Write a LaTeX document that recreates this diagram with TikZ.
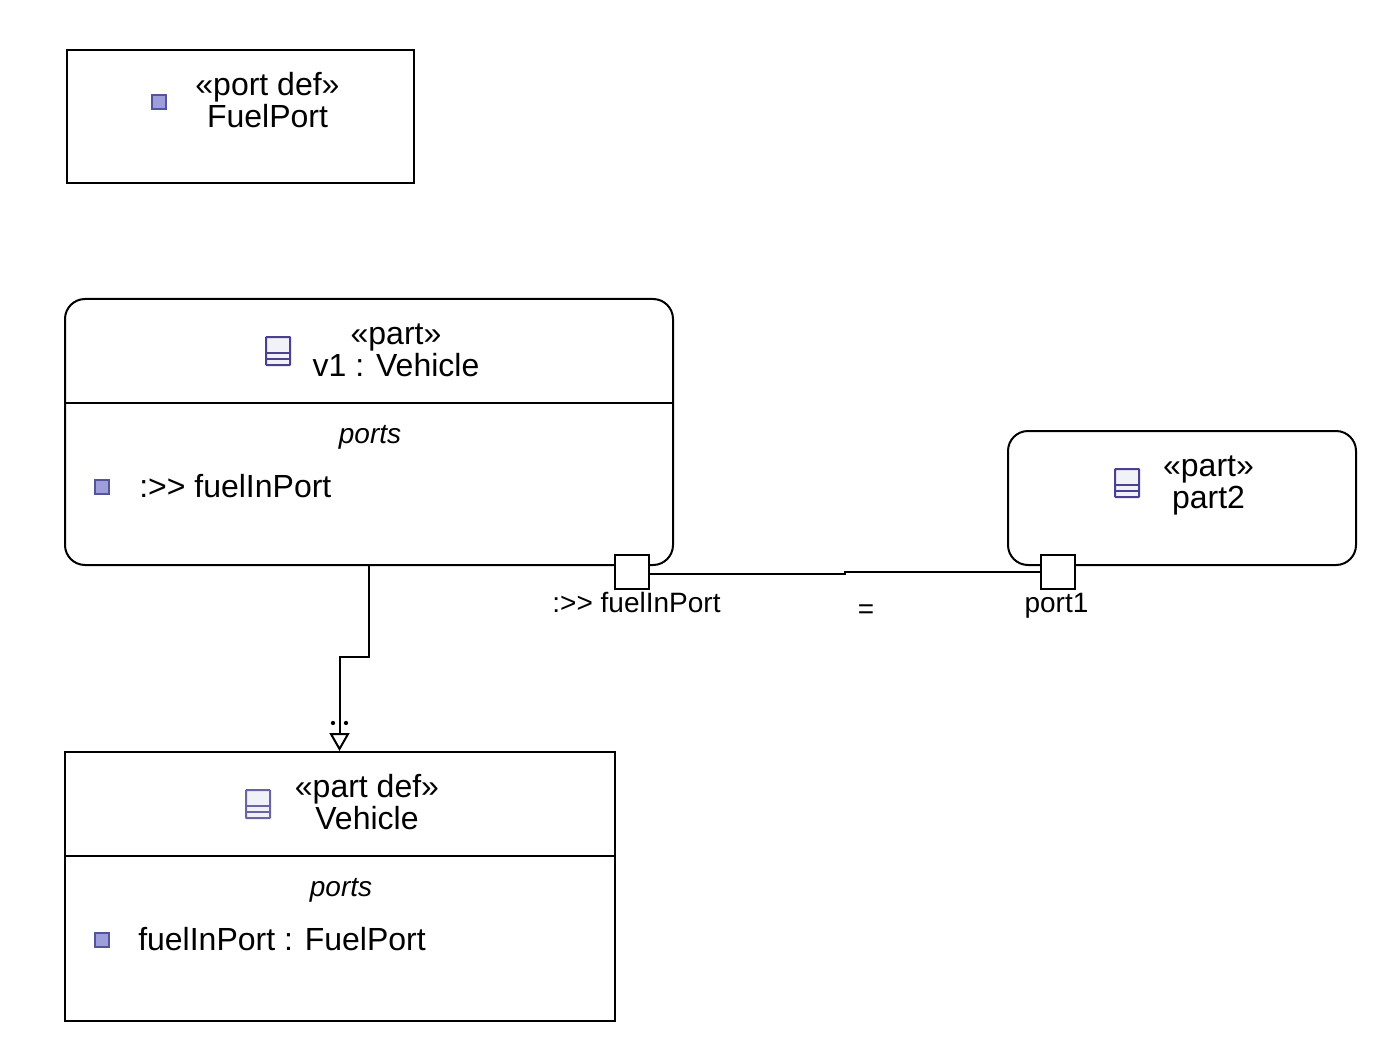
\documentclass[tikz,border=0pt]{standalone}
\usepackage{fontspec}
\setmainfont{Liberation Sans}
\usetikzlibrary{arrows.meta}
\definecolor{iconline}{HTML}{4B3F8F}
\definecolor{iconlinedef}{HTML}{6A64A4}
\definecolor{iconfill}{HTML}{F1F1F8}
\definecolor{portfill}{HTML}{9E9EDC}
\definecolor{portline}{HTML}{54549A}
\tikzstyle{box} = [draw, line width=1.5pt, inner sep=0pt, outer sep=0pt, anchor=north west]
\tikzstyle{portbox} = [box, fill=white, minimum width=25.5pt, minimum height=25.5pt]
\tikzstyle{title} = [align=center, font=\fontsize{24}{24}\selectfont, inner sep=0pt]
\tikzstyle{small} = [font=\fontsize{21}{21}\selectfont, inner sep=0pt]
\tikzstyle{item} = [font=\fontsize{24}{24}\selectfont, inner sep=0pt, anchor=west]
\tikzstyle{porticon} = [draw=portline, fill=portfill, line width=1.3pt, inner sep=0pt, minimum width=10.5pt, minimum height=10.5pt]
\tikzstyle{link} = [line width=1.5pt]
\newcommand{\blockicon}[2]{%
	\draw[draw=#2, fill=iconfill, line width=1.5pt, rounded corners=0.5pt] (#1) ++(-12,-14) rectangle ++(24,28);
	\draw[draw=#2, line width=1.5pt] (#1) ++(-12,2) -- ++(24,0) ++(-24,6) -- ++(24,0);
}
\begin{document}
\begin{tikzpicture}[x=0.75pt, y=-0.75pt]
	\useasboundingbox (0,0) rectangle (1394,1062);
	% port definition
	\node[box, minimum width=260.25pt, minimum height=99.75pt] (fuelport) at (67,50) {};
	\node[porticon] (fuelportIcon) at (159,102) {};
	\node[title] (fuelportTitle) at (267.5,100.5) {«port def»\\FuelPort};
	% v1
	\node[box, rounded corners=15pt, minimum width=456pt, minimum height=199.5pt] (v1) at (65,299) {};
	\coordinate (v1Left) at (65,403);
	\coordinate (v1Right) at (673,403);
	\draw[link] (v1Left) -- (v1Right);
	\coordinate (v1Icon) at (278,351);
	\blockicon{v1Icon}{iconline}
	\node[title] (v1Title) at (396,350) {«part»\\v1 : Vehicle};
	\node[small] (v1Ports) at (370,437.5) {\itshape ports};
	\node[porticon] (v1PortIcon) at (102,487) {};
	\node[item] (v1Item) at (139,486) {:>{}> fuelInPort};
	% part2
	\node[box, rounded corners=15pt, minimum width=261pt, minimum height=100.5pt] (part2) at (1008,431) {};
	\coordinate (part2Icon) at (1127,483);
	\blockicon{part2Icon}{iconline}
	\node[title] (part2Title) at (1208.5,485) {«part»\\part2};
	% part definition
	\node[box, minimum width=412.5pt, minimum height=201.75pt] (vehicle) at (65,752) {};
	\coordinate (vehicleLeft) at (65,856);
	\coordinate (vehicleRight) at (615,856);
	\draw[link] (vehicleLeft) -- (vehicleRight);
	\coordinate (vehicleIcon) at (258,804);
	\blockicon{vehicleIcon}{iconlinedef}
	\node[title] (vehicleTitle) at (367,802.5) {«part def»\\Vehicle};
	\node[small] (vehiclePorts) at (341,890.5) {\itshape ports};
	\node[porticon] (vehiclePortIcon) at (102,940) {};
	\node[item] (vehicleItem) at (138,939) {fuelInPort : FuelPort};
	% binding
	\node[portbox] (fuelInPort) at (615,555) {};
	\node[portbox] (port1) at (1041,555) {};
	\node[small] (fuelInPortLabel) at (636.5,602) {:>{}> fuelInPort};
	\node[small] (port1Label) at (1056.5,606) {port1};
	\coordinate (bindMidA) at (845,574);
	\coordinate (bindMidB) at (845,572);
	\draw[link] (fuelInPort.east |- bindMidA) -- (bindMidA) -- (bindMidB) -- (port1.west |- bindMidB);
	\node[small] (bindLabel) at (866,612) {=};
	% definition relation
	\coordinate (specStart) at (369,565);
	\coordinate (specBendA) at (369,657);
	\coordinate (specBendB) at (339.5,657);
	\coordinate (specTip) at (339.5,751);
	\draw[link, -{Triangle[open, length=13.5pt, width=15pt, line width=1.5pt]}] (specStart) -- (specBendA) -- (specBendB) -- (specTip);
	\fill (333,723) circle (1.6pt) (346,723) circle (1.6pt);
\end{tikzpicture}
\end{document}
